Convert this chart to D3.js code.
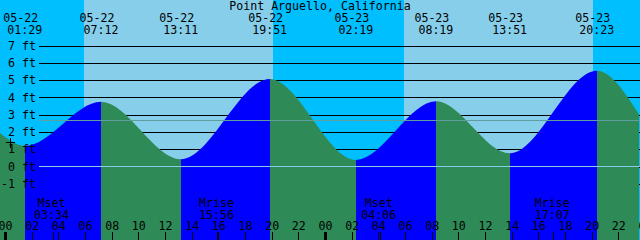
<!DOCTYPE html>
<html lang="en">
<head>
<meta charset="utf-8">
<title>Point Arguello, California</title>
<style>
  body { margin: 0; background: #fff; }
  svg { display: block; }
  text { font-family: "DejaVu Sans Mono", monospace; font-size: 11.6px; fill: #000; }
</style>
</head>
<body>
<svg id="chart" width="640" height="240"></svg>
<script src="https://cdn.jsdelivr.net/npm/d3@7"></script>
<script>
const title = "Point Arguello, California";

// tide highs and lows (local time, feet)
const extremeTimes = ["05-22 01:29", "05-22 07:12", "05-22 13:11", "05-22 19:51",
                      "05-23 02:19", "05-23 08:19", "05-23 13:51", "05-23 20:23"];
const extremeFeet = [1.19, 3.75, 0.42, 5.06, 0.38, 3.77, 0.76, 5.54];
// level read at the left and right edges of the picture
const edgeTimes = ["05-21 23:35", "05-23 23:35"];
const edgeFeet = [1.96, 2.98];

const sunriseTimes = ["05-22 05:55", "05-23 05:55"];
const sunsetTimes = ["05-22 20:06", "05-23 20:06"];

const moonNames = ["Mset", "Mrise", "Mset", "Mrise"];
const moonTimes = ["05-22 03:34", "05-22 15:56", "05-23 04:06", "05-23 17:07"];

const feetTicks = [-1, 0, 1, 2, 3, 4, 5, 6, 7];
const mslFeet = 2.67;
const markTime = "05-22 00:22", markFeet = 1.4;

const W = 640, H = 240;
const parse = d3.timeParse("%Y-%m-%d %H:%M");
const t = s => parse("2022-" + s);

const x = d3.scaleTime()
  .domain([t("05-22 00:00"), t("05-24 00:00")])
  .range([5, 645]);
const y = d3.scaleLinear().domain([0, 7]).range([166.5, 45.5]);

const svg = d3.select("#chart");

// sky: night and day bands
svg.append("rect").attr("width", W).attr("height", H).attr("fill", "#00bfff");
svg.append("g").selectAll("rect")
  .data(sunriseTimes.map((s, i) => [t(s), t(sunsetTimes[i])]))
  .join("rect")
  .attr("x", d => Math.round(x(d[0])))
  .attr("width", d => Math.round(x(d[1])) - Math.round(x(d[0])))
  .attr("y", 0).attr("height", H)
  .attr("fill", "#87ceeb");

// grid lines under the water
svg.append("g")
  .attr("transform", "translate(39,0)")
  .call(d3.axisLeft(y).tickValues(feetTicks).tickSize(-(W - 39)).tickFormat(""))
  .call(g => g.select(".domain").remove())
  .call(g => g.selectAll("line").attr("stroke", "#000").attr("shape-rendering", "crispEdges"));

// tide curve, blue while rising, sea green while falling
const pts = edgeTimes.concat(extremeTimes).map((s, i) => ({
  t: t(s),
  ft: i < 2 ? edgeFeet[i] : extremeFeet[i - 2]
})).sort((a, b) => a.t - b.t);

const area = d3.area()
  .x(d => x(d.t))
  .y0(H)
  .y1(d => y(d.ft))
  .curve(d3.curveMonotoneX);

svg.append("defs").append("clipPath").attr("id", "tide")
  .append("path").attr("d", area(pts));

const segs = d3.pairs(pts);
svg.append("g").attr("clip-path", "url(#tide)")
  .selectAll("rect").data(segs).join("rect")
  .attr("x", d => Math.round(x(d[0].t)))
  .attr("width", d => Math.round(x(d[1].t)) - Math.round(x(d[0].t)))
  .attr("y", 0).attr("height", H)
  .attr("shape-rendering", "crispEdges")
  .attr("fill", d => d[1].ft > d[0].ft ? "#0000ff" : "#2e8b57");

// mean sea level and datum
svg.append("line")
  .attr("x1", 39).attr("x2", W)
  .attr("y1", Math.round(y(mslFeet)) + 0.5).attr("y2", Math.round(y(mslFeet)) + 0.5)
  .attr("stroke", "#5f9ea0");
svg.append("line")
  .attr("x1", 39).attr("x2", W)
  .attr("y1", y(0)).attr("y2", y(0))
  .attr("stroke", "#87ceeb");

// feet labels
svg.append("g")
  .attr("transform", "translate(39,0)")
  .call(d3.axisLeft(y).tickValues(feetTicks).tickSize(0).tickPadding(3).tickFormat(d => d + " ft"))
  .call(g => g.select(".domain").remove())
  .call(g => g.selectAll("text").attr("fill", "#000"));

// little plus mark
const mx = Math.round(x(t(markTime))) + 0.5, my = Math.round(y(markFeet)) + 0.5;
svg.append("path")
  .attr("d", `M${mx - 4.5},${my}H${mx + 4.5}M${mx},${my - 5}V${my + 5}`)
  .attr("stroke", "#000").attr("shape-rendering", "crispEdges");

// title
svg.append("text").attr("x", W / 2).attr("y", 9.5)
  .attr("text-anchor", "middle").text(title);

// high / low labels
const tideLabels = svg.append("g").selectAll("g").data(extremeTimes).join("g")
  .attr("text-anchor", "middle");
tideLabels.append("text").attr("x", d => x(t(d)) - 4).attr("y", 21.5).text(d => d.slice(0, 5));
tideLabels.append("text").attr("x", d => x(t(d))).attr("y", 33.5).text(d => d.slice(6));

// hour axis along the bottom
svg.append("g")
  .attr("transform", `translate(0,${H})`)
  .call(d3.axisTop(x).ticks(d3.timeHour.every(2)).tickSize(8).tickPadding(2)
    .tickFormat(d3.timeFormat("%H")))
  .call(g => g.select(".domain").remove())
  .call(g => g.selectAll("text").attr("dy", 0).attr("fill", "#000"))
  .call(g => g.selectAll(".tick line").attr("stroke", "#000")
    .attr("shape-rendering", "crispEdges")
    .attr("stroke-width", d => d.getHours() === 0 ? 3 : 1));

// moon rise / set
const moon = svg.append("g").selectAll("g").data(moonTimes).join("g")
  .attr("text-anchor", "middle");
moon.append("line")
  .attr("x1", d => Math.round(x(t(d))) + 0.5).attr("x2", d => Math.round(x(t(d))) + 0.5)
  .attr("y1", H - 8).attr("y2", H)
  .attr("stroke", "#000");
moon.append("text").attr("x", d => x(t(d)) - 1).attr("y", 206.5).text((d, i) => moonNames[i]);
moon.append("text").attr("x", d => x(t(d)) - 1).attr("y", 218.5).text(d => d.slice(6));
</script>
</body>
</html>
